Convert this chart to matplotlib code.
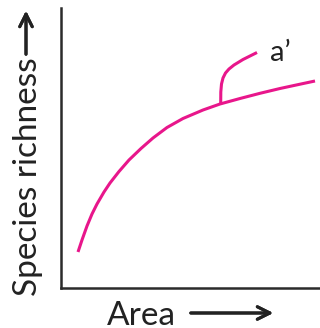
import matplotlib.pyplot as plt

# main species-area curve (area, richness)
area = [17, 21, 26, 31, 36, 43, 49, 58, 68, 80, 92, 106, 122, 142, 159, 179, 199, 219, 239, 254]
richness = [36, 48, 62, 74, 84, 96, 105, 116.5, 128, 139.5, 150, 160.5, 169.5, 178, 184,
            189.5, 194.7, 199.5, 203.8, 207]

# branch a'
branch_area = [159.7, 159.8, 160.5, 162, 164.5, 168, 173, 182, 189, 196]
branch_richness = [184, 196, 204, 210, 215, 219, 223, 228.5, 232, 235.5]

curve_color = '#e8168b'
axis_color = '#2b2b2b'
text_color = '#222222'

fig = plt.figure(figsize=(3.2, 3.28), dpi=100)
ax = fig.add_axes([61 / 320, 40 / 328, 259 / 320, 280 / 328])

ax.plot(area, richness, color=curve_color, lw=2.2, solid_capstyle='butt', solid_joinstyle='round')
ax.plot(branch_area, branch_richness, color=curve_color, lw=2.2, solid_capstyle='butt',
        solid_joinstyle='round')
ax.text(219, 235, "a\u2019", fontsize=21, family=['Lato', 'DejaVu Sans'],
        color=text_color, ha='center', va='center')

ax.set_xlim(0, 259)
ax.set_ylim(0, 280)
ax.set_xticks([])
ax.set_yticks([])
for side in ['top', 'right']:
    ax.spines[side].set_visible(False)
for side in ['left', 'bottom']:
    ax.spines[side].set_color(axis_color)
    ax.spines[side].set_linewidth(1.8)

# axis labels with long arrows
fig.text(141 / 320, 1 - 313 / 328, "Area", fontsize=24, family='Lato',
         color=text_color, ha='center', va='center_baseline')
fig.text(37 / 320, 1 - 296 / 328, "Species richness", fontsize=24, family='Lato',
         color=text_color, ha='left', va='baseline', rotation=90, rotation_mode='anchor')

fig.add_artist(plt.annotate('', xy=(276 / 320, 1 - 313 / 328), xytext=(188 / 320, 1 - 313 / 328),
               xycoords='figure fraction',
               arrowprops=dict(arrowstyle='->,head_length=0.9,head_width=0.45',
                               color=text_color, lw=2.2)))
fig.add_artist(plt.annotate('', xy=(26 / 320, 1 - 8 / 328), xytext=(26 / 320, 1 - 57 / 328),
               xycoords='figure fraction',
               arrowprops=dict(arrowstyle='->,head_length=0.9,head_width=0.45',
                               color=text_color, lw=2.2)))

fig.savefig('out.png', dpi=100)
